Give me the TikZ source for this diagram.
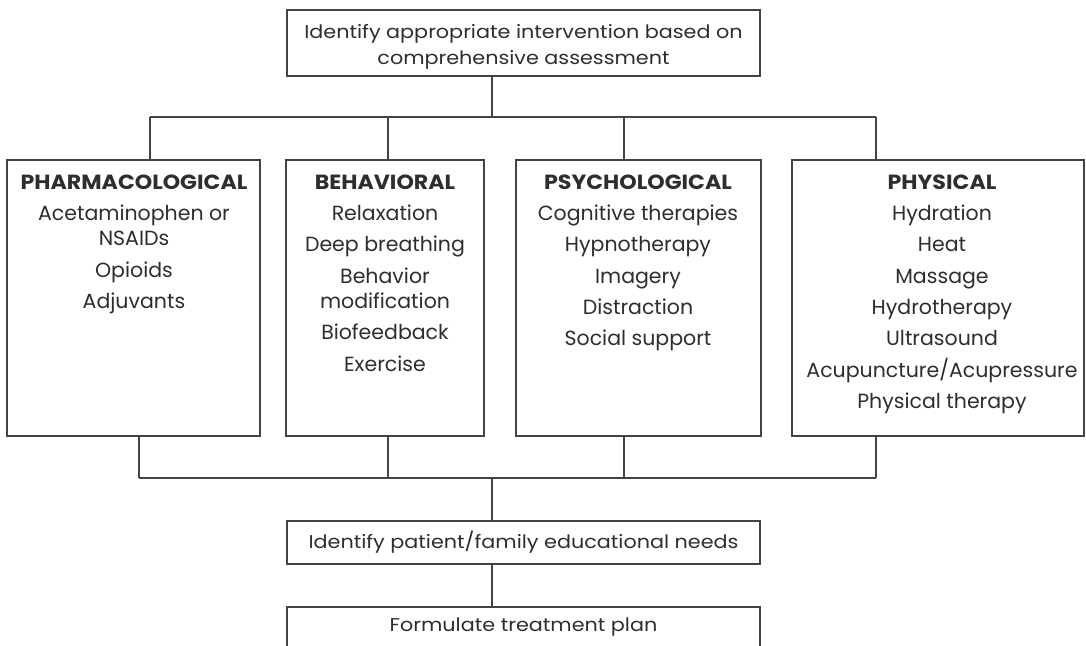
\documentclass[tikz,border=0pt]{standalone}
\usepackage{fontspec}
\setmainfont{Poppins}
\newfontfamily\widefont[FakeStretch=1.12]{Poppins}
\newfontfamily\hdfont[FakeStretch=1.08]{Poppins}
\definecolor{ln}{HTML}{444444}
\definecolor{tx}{HTML}{2E2E2E}
\begin{document}
\begin{tikzpicture}[x=1pt,y=-1pt,
  box/.style={draw=ln,line width=1.6pt,rectangle,inner sep=0pt},
  conn/.style={draw=ln,line width=1.5pt},
  lbl/.style={text=tx,align=center,inner sep=0pt,font=\fontsize{20.5}{25.3}\selectfont},
  wlbl/.style={text=tx,align=center,inner sep=0pt,font=\widefont\fontsize{18.5}{26}\selectfont}]
\newcommand\hd[1]{{\hdfont\bfseries #1}}
\useasboundingbox (0,0) rectangle (1086,645);
\fill[white] (0,0) rectangle (1086,645);
% boxes
\node[box,minimum width=473pt,minimum height=66pt] (top) at (523.5,43) {};
\node[wlbl] (toptxt) at (523.5,47) {Identify appropriate intervention based on\\comprehensive assessment};
\node[box,minimum width=253pt,minimum height=276pt] (b1) at (133.5,298) {};
\node[box,minimum width=198pt,minimum height=276pt] (b2) at (385,298) {};
\node[box,minimum width=245pt,minimum height=276pt] (b3) at (638.5,298) {};
\node[box,minimum width=292pt,minimum height=276pt] (b4) at (938,298) {};
\node[lbl,anchor=north] (t1) at (134,174.5) {\hd{PHARMACOLOGICAL}\\[6pt]Acetaminophen or\\NSAIDs\\[6pt]Opioids\\[6pt]Adjuvants};
\node[lbl,anchor=north] (t2) at (385,174.5) {\hd{BEHAVIORAL}\\[6pt]Relaxation\\[6pt]Deep breathing\\[6pt]Behavior\\modification\\[6pt]Biofeedback\\[6pt]Exercise};
\node[lbl,anchor=north] (t3) at (638,174.5) {\hd{PSYCHOLOGICAL}\\[6pt]Cognitive therapies\\[6pt]Hypnotherapy\\[6pt]Imagery\\[6pt]Distraction\\[6pt]Social support};
\node[lbl,anchor=north] (t4) at (942,174.5) {\hd{PHYSICAL}\\[6pt]Hydration\\[6pt]Heat\\[6pt]Massage\\[6pt]Hydrotherapy\\[6pt]Ultrasound\\[6pt]Acupuncture/Acupressure\\[6pt]Physical therapy};
\node[box,minimum width=473pt,minimum height=43pt] (edu) at (523.5,542.5) {};
\node[wlbl] (edutxt) at (edu.center) {Identify patient/family educational needs};
\node[box,minimum width=473pt,minimum height=43pt,anchor=north] (plan) at (523.5,606) {};
\node[wlbl] (plantxt) at (523.5,627) {Formulate treatment plan};
% top bus
\coordinate (tb) at (492,117);
\coordinate (d1) at (150,117);
\coordinate (d2) at (388,117);
\coordinate (d3) at (624,117);
\coordinate (d4) at (876,117);
\draw[conn] (top.south -| tb) -- (tb);
\draw[conn] (d1) -- (d4);
\foreach \i in {1,2,3,4} \draw[conn] (d\i) -- (d\i |- b\i.north);
% bottom bus
\coordinate (bb) at (492,478);
\coordinate (u1) at (139,478);
\coordinate (u2) at (388,478);
\coordinate (u3) at (624,478);
\coordinate (u4) at (876,478);
\draw[conn] (u1) -- (u4);
\foreach \i in {1,2,3,4} \draw[conn] (u\i |- b\i.south) -- (u\i);
\draw[conn] (bb) -- (bb |- edu.north);
\draw[conn] (bb |- edu.south) -- (bb |- plan.north);
\end{tikzpicture}
\end{document}
